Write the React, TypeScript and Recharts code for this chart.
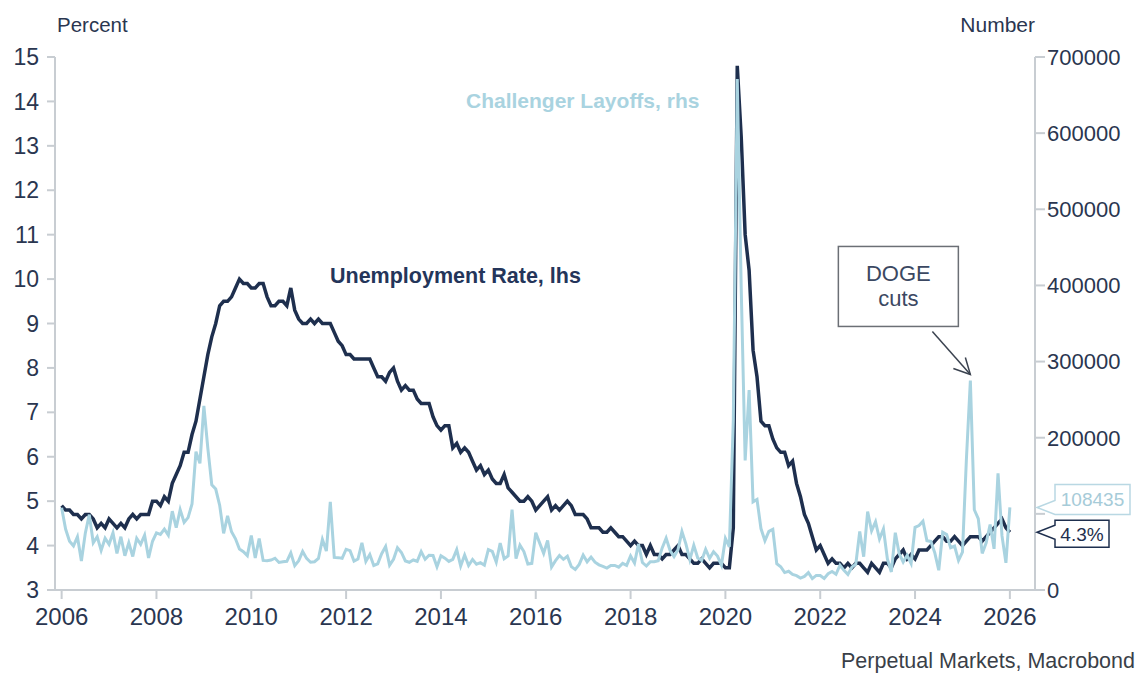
import { LineChart, Line, XAxis, YAxis, ReferenceDot } from 'recharts';

// monthly series, Jan 2006 .. Jan 2026
const START_YEAR = 2006;

// US unemployment rate, % (Oct 2025 not published)
const unemploymentRate = [
  4.9, 4.8, 4.8, 4.7, 4.7, 4.6, 4.7, 4.7, 4.6, 4.4, 4.5, 4.4, // 2006
  4.6, 4.5, 4.4, 4.5, 4.4, 4.6, 4.7, 4.6, 4.7, 4.7, 4.7, 5.0, // 2007
  5.0, 4.9, 5.1, 5.0, 5.4, 5.6, 5.8, 6.1, 6.1, 6.5, 6.8, 7.3, // 2008
  7.8, 8.3, 8.7, 9.0, 9.4, 9.5, 9.5, 9.6, 9.8, 10.0, 9.9, 9.9, // 2009
  9.8, 9.8, 9.9, 9.9, 9.6, 9.4, 9.4, 9.5, 9.5, 9.4, 9.8, 9.3, // 2010
  9.1, 9.0, 9.0, 9.1, 9.0, 9.1, 9.0, 9.0, 9.0, 8.8, 8.6, 8.5, // 2011
  8.3, 8.3, 8.2, 8.2, 8.2, 8.2, 8.2, 8.0, 7.8, 7.8, 7.7, 7.9, // 2012
  8.0, 7.7, 7.5, 7.6, 7.5, 7.5, 7.3, 7.2, 7.2, 7.2, 6.9, 6.7, // 2013
  6.6, 6.7, 6.7, 6.2, 6.3, 6.1, 6.2, 6.1, 5.9, 5.7, 5.8, 5.6, // 2014
  5.7, 5.5, 5.4, 5.4, 5.6, 5.3, 5.2, 5.1, 5.0, 5.0, 5.1, 5.0, // 2015
  4.8, 4.9, 5.0, 5.1, 4.8, 4.9, 4.8, 4.9, 5.0, 4.9, 4.7, 4.7, // 2016
  4.7, 4.6, 4.4, 4.4, 4.4, 4.3, 4.3, 4.4, 4.3, 4.2, 4.2, 4.1, // 2017
  4.0, 4.1, 4.0, 4.0, 3.8, 4.0, 3.8, 3.8, 3.7, 3.8, 3.8, 3.9, // 2018
  4.0, 3.8, 3.8, 3.7, 3.6, 3.6, 3.7, 3.6, 3.5, 3.6, 3.6, 3.6, // 2019
  3.5, 3.5, 4.4, 14.8, 13.2, 11.0, 10.2, 8.4, 7.8, 6.8, 6.7, 6.7, // 2020
  6.4, 6.2, 6.1, 6.1, 5.8, 5.9, 5.4, 5.1, 4.7, 4.5, 4.2, 3.9, // 2021
  4.0, 3.8, 3.6, 3.7, 3.6, 3.6, 3.5, 3.6, 3.5, 3.6, 3.6, 3.5, // 2022
  3.4, 3.6, 3.5, 3.4, 3.6, 3.6, 3.5, 3.7, 3.8, 3.9, 3.7, 3.8, // 2023
  3.7, 3.9, 3.9, 3.9, 4.0, 4.1, 4.2, 4.2, 4.1, 4.1, 4.2, 4.1, // 2024
  4.0, 4.1, 4.2, 4.2, 4.2, 4.1, 4.2, 4.3, 4.4, null, 4.6, 4.4, // 2025
  4.3, // 2026
];

// Challenger announced job cuts, number
const challengerLayoffs = [
  108000, 80000, 64000, 58000, 70000, 38000, 75000, 99000, 62000, 70000, 52000, 68000, // 2006
  60000, 75000, 48000, 70000, 45000, 62000, 44000, 68000, 60000, 72000, 42000, 64000, // 2007
  75000, 73000, 80000, 72000, 103500, 81800, 105500, 88700, 95100, 112900, 181700, 166300, // 2008
  241700, 186400, 138200, 132600, 111200, 74400, 97400, 76500, 67200, 53700, 50300, 45100, // 2009
  71500, 42100, 67600, 38800, 38400, 39400, 41700, 36200, 37200, 37600, 48700, 32000, // 2010
  38500, 50700, 41500, 36500, 37100, 41400, 66400, 51100, 115700, 42800, 42500, 41600, // 2011
  53500, 51700, 37900, 40600, 61900, 37600, 46500, 32200, 34400, 47700, 57100, 32600, // 2012
  40400, 55400, 49300, 38100, 36400, 39400, 37700, 50500, 40300, 45700, 45300, 30600, // 2013
  45100, 41800, 37600, 40300, 53000, 31400, 45900, 32200, 40000, 34000, 35900, 32600, // 2014
  53000, 50600, 36600, 61600, 41000, 44800, 105700, 41200, 58900, 50500, 34200, 35000, // 2015
  75100, 61600, 48200, 65100, 30200, 38500, 45300, 40300, 44300, 30700, 26900, 33600, // 2016
  45900, 37000, 43300, 36600, 33100, 31100, 28800, 32300, 32300, 30000, 35000, 32400, // 2017
  44700, 35400, 60400, 36100, 31500, 37200, 37200, 38500, 55300, 68200, 51900, 43900, // 2018
  53000, 76800, 60600, 40000, 58600, 42000, 38800, 53500, 41600, 50300, 44600, 32800, // 2019
  67700, 56700, 222300, 671100, 397000, 170200, 262600, 115800, 118800, 80700, 64800, 77000, // 2020
  79600, 34500, 30600, 22900, 24600, 20500, 18900, 15700, 17900, 22800, 14900, 19100, // 2021
  19100, 15200, 21400, 24300, 20700, 32500, 25800, 20500, 30000, 33800, 76800, 43700, // 2022
  102900, 77800, 89700, 67000, 80100, 40700, 23700, 75200, 47500, 36800, 45500, 34800, // 2023
  82300, 84600, 90300, 64800, 63800, 48800, 25900, 75900, 72800, 55600, 57700, 38800, // 2024
  49800, 172000, 275200, 105400, 93800, 48000, 62100, 86000, 54100, 153100, 71300, 35600, // 2025
  108435, // 2026
];

const yearTicks = [2006, 2008, 2010, 2012, 2014, 2016, 2018, 2020, 2022, 2024, 2026];
const percentTicks = [3, 4, 5, 6, 7, 8, 9, 10, 11, 12, 13, 14, 15];
const numberTicks = [0, 100000, 200000, 300000, 400000, 500000, 600000, 700000];
const hiddenNumberTicks = [100000]; // covered by the end-value callouts
const X_DOMAIN = [2005.86, 2026.53];

const DOGE_INDEX = 19 * 12 + 2; // Mar 2025

const data = unemploymentRate.map((rate, i) => ({
  t: START_YEAR + i / 12,
  rate,
  layoffs: challengerLayoffs[i],
}));

const lastRate = unemploymentRate[unemploymentRate.length - 1];
const lastLayoffs = challengerLayoffs[challengerLayoffs.length - 1];

const DARK = '#1e2f4e';
const LIGHT = '#a9d3e0';
const AXIS = '#c8cdd2';
const TEXT = '#2a3650';
const FONT = '"Liberation Sans", Arial, sans-serif';

const RightTick = ({ x, y, payload }: any) => {
  if (hiddenNumberTicks.includes(payload.value)) return null;
  return (
    <text x={x} y={y} dy="0.355em" textAnchor="start" fontSize={22} fontFamily={FONT} fill={TEXT}>
      {payload.value}
    </text>
  );
};

const Callout = ({ cx, cy, label, stroke, color, top, bottom, width }: any) => {
  const bx = cx + 20;
  const d = `M${bx},${cy - 7} L${bx},${cy + top} L${bx + width},${cy + top} L${bx + width},${cy + bottom} L${bx},${cy + bottom} L${bx},${cy + 7} L${cx + 2},${cy} Z`;
  return (
    <g>
      <path d={d} fill="#fff" stroke={stroke} strokeWidth={1.5} />
      <text x={bx + width / 2} y={cy + (top + bottom) / 2} dy="0.36em" textAnchor="middle"
        fontSize={19} fontFamily={FONT} fill={color}>{label}</text>
    </g>
  );
};

const DogeNote = ({ cx, cy }: any) => {
  const tipX = cx;
  const tipY = cy - 6;
  return (
    <g>
      <rect x={cx - 132} y={cy - 134} width={120} height={80} fill="#fff" stroke="#6b6f75" strokeWidth={1.5} />
      <text x={cx - 72} y={cy - 99} textAnchor="middle" fontSize={22} fontFamily={FONT} fill="#3b4862">DOGE</text>
      <text x={cx - 72} y={cy - 74} textAnchor="middle" fontSize={22} fontFamily={FONT} fill="#3b4862">cuts</text>
      <line x1={cx - 38} y1={cy - 49} x2={tipX} y2={tipY} stroke="#3b4350" strokeWidth={1.5} />
      <polyline points={`${tipX - 5},${tipY - 17} ${tipX},${tipY} ${tipX - 17},${tipY - 6}`}
        fill="none" stroke="#3b4350" strokeWidth={1.5} />
    </g>
  );
};

export default function App() {
  return (
    <div style={{ position: 'absolute', left: 0, top: 0, width: 1139, height: 673, background: '#fff' }}>
      <LineChart width={1139} height={673} data={data} margin={{ top: 57, right: 10, left: 10, bottom: 43 }}>
        <XAxis dataKey="t" type="number" domain={X_DOMAIN} allowDataOverflow ticks={yearTicks} interval={0}
          height={40} stroke={AXIS} strokeWidth={2} tickSize={9} tickMargin={9}
          tick={{ fontSize: 24, fill: TEXT, fontFamily: FONT }} />
        <YAxis yAxisId="left" domain={[3, 15]} ticks={percentTicks} interval={0} width={45}
          stroke={AXIS} strokeWidth={2} tickSize={8} tickMargin={8} allowDataOverflow
          tick={{ fontSize: 23, fill: TEXT, fontFamily: FONT }} />
        <YAxis yAxisId="right" orientation="right" domain={[0, 700000]} ticks={numberTicks} interval={0}
          width={94} stroke={AXIS} strokeWidth={2} tickSize={10} tickMargin={2} allowDataOverflow
          tick={<RightTick />} />
        <Line yAxisId="left" dataKey="rate" type="linear" stroke={DARK} strokeWidth={3.5} dot={false}
          connectNulls isAnimationActive={false} />
        <Line yAxisId="right" dataKey="layoffs" type="linear" stroke={LIGHT} strokeWidth={3} dot={false}
          isAnimationActive={false} />
        <ReferenceDot yAxisId="right" x={data[DOGE_INDEX].t} y={challengerLayoffs[DOGE_INDEX]}
          ifOverflow="visible" shape={(p: any) => <DogeNote cx={p.cx} cy={p.cy} />} />
        <ReferenceDot yAxisId="right" x={X_DOMAIN[1]} y={lastLayoffs} ifOverflow="visible"
          shape={(p: any) => <Callout cx={p.cx} cy={p.cy} label={String(lastLayoffs)} stroke="#b9d8e3"
            color="#a6cbd8" top={-23} bottom={7} width={75} />} />
        <ReferenceDot yAxisId="left" x={X_DOMAIN[1]} y={lastRate} ifOverflow="visible"
          shape={(p: any) => <Callout cx={p.cx} cy={p.cy} label={`${lastRate}%`} stroke={DARK}
            color={DARK} top={-12} bottom={15} width={54} />} />
      </LineChart>
      <svg width={1139} height={673} style={{ position: 'absolute', left: 0, top: 0, pointerEvents: 'none' }}>
        <text x={57} y={32} fontSize={20.5} fontFamily={FONT} fill={TEXT}>Percent</text>
        <text x={1035} y={32} textAnchor="end" fontSize={21} fontFamily={FONT} fill={TEXT}>Number</text>
        <text x={466} y={108} fontSize={21} fontWeight="bold" fontFamily={FONT} fill={LIGHT}>Challenger Layoffs, rhs</text>
        <text x={330} y={283} fontSize={21.5} fontWeight="bold" fontFamily={FONT} fill="#24355a">Unemployment Rate, lhs</text>
        <text x={1135} y={668} textAnchor="end" fontSize={21.5} fontFamily={FONT} fill="#3a3f48">Perpetual Markets, Macrobond</text>
      </svg>
    </div>
  );
}
